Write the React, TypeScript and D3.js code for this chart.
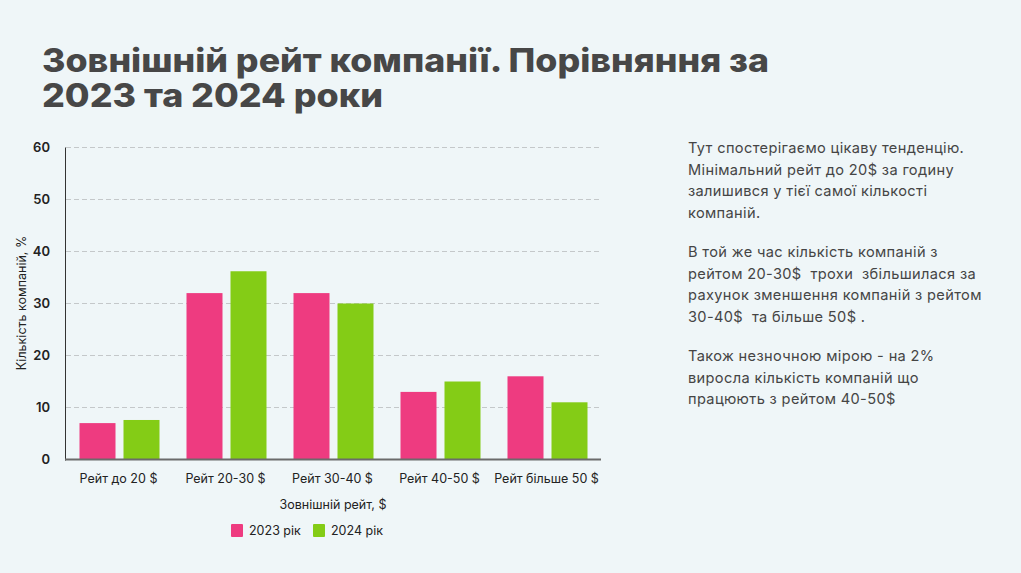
import React from "react";
import * as d3 from "d3";

const categories = ["Рейт до 20 $", "Рейт 20-30 $", "Рейт 30-40 $", "Рейт 40-50 $", "Рейт більше 50 $"];
const series2023 = [7, 32, 32, 13, 16];
const series2024 = [7.6, 36.2, 30, 15, 11];
const seriesNames = ["2023 рік", "2024 рік"];
const seriesColors = ["#EE3B80", "#84CC16"];
const yTicks = [0, 10, 20, 30, 40, 50, 60];

const titleLines = ["Зовнішній рейт компанії. Порівняння за", "2023 та 2024 роки"];
const titleWidths = [727, 341];
const paragraphs = [
  ["Тут спостерігаємо цікаву тенденцію.", "Мінімальний рейт до 20$ за годину", "залишився у тієї самої кількості", "компаній."],
  ["В той же час кількість компаній з", "рейтом 20-30$  трохи  збільшилася за", "рахунок зменшення компаній з рейтом", "30-40$  та більше 50$ ."],
  ["Також незночною мірою - на 2%", "виросла кількість компаній що", "працюють з рейтом 40-50$"],
];

const W = 1021;
const H = 573;
const plot = { left: 66, right: 601, top: 147.5, bottom: 459.5 };
const FONT = "Inter, 'Noto Sans', sans-serif";
const TEXT = "#222";

export default function App() {
  const x0 = d3.scaleBand<string>().domain(categories).range([plot.left, plot.right]).paddingInner(0).paddingOuter(0);
  const y = d3.scaleLinear().domain([0, 60]).range([plot.bottom, plot.top]);
  const barW = 36;
  const gap = 8;
  const data = [series2023, series2024];

  return (
    <svg width={W} height={H} style={{ position: "absolute", left: 0, top: 0, display: "block" }} fontFamily={FONT}>
      <rect x={0} y={0} width={W} height={H} fill="#EFF6F8" />
      {titleLines.map((t, i) => (
        <text key={i} x={42} y={71.5 + i * 35.6} fontSize={32.5} fontWeight={800} fill="#474747" textLength={titleWidths[i]} lengthAdjust="spacingAndGlyphs">
          {t}
        </text>
      ))}

      {/* grid */}
      {yTicks.filter((t) => t > 0).map((t) => (
        <line key={t} x1={plot.left} x2={plot.right} y1={y(t)} y2={y(t)} stroke="#C4C8CA" strokeWidth={1} strokeDasharray="5,3" />
      ))}
      {yTicks.map((t) => (
        <text key={t} x={50} y={y(t)} dy="0.35em" textAnchor="end" fontSize={13} fontWeight={600} fill={TEXT}>
          {t}
        </text>
      ))}

      {/* bars */}
      {categories.map((c, ci) => {
        const bw = x0.bandwidth();
        const start = (x0(c) as number) + (bw - (barW * 2 + gap)) / 2;
        return data.map((s, si) => (
          <rect key={c + si} x={start + si * (barW + gap)} y={y(s[ci])} width={barW} height={y(0) - y(s[ci])} fill={seriesColors[si]} />
        ));
      })}

      {/* axes */}
      <line x1={plot.left - 0.5} x2={plot.left - 0.5} y1={plot.top} y2={plot.bottom + 1} stroke="#333" strokeWidth={1} />
      <line x1={plot.left - 1} x2={plot.right} y1={plot.bottom} y2={plot.bottom} stroke="#6b6b6b" strokeWidth={2} />

      {categories.map((c) => (
        <text key={c} x={(x0(c) as number) + x0.bandwidth() / 2 - 1} y={478.5} dy="0.35em" textAnchor="middle" fontSize={12.5} fill={TEXT}>
          {c}
        </text>
      ))}
      <text x={333} y={505} dy="0.35em" textAnchor="middle" fontSize={12.5} fill={TEXT}>
        Зовнішній рейт, $
      </text>
      <text transform={`translate(22,303) rotate(-90)`} textAnchor="middle" dy="0.35em" fontSize={12.5} fill={TEXT}>
        Кількість компаній, %
      </text>

      {/* legend */}
      {seriesNames.map((n, i) => (
        <g key={n} transform={`translate(${231 + i * 82},0)`}>
          <rect x={0} y={524} width={12} height={13} rx={1} fill={seriesColors[i]} />
          <text x={18} y={531} dy="0.35em" fontSize={12.5} fill={TEXT}>
            {n}
          </text>
        </g>
      ))}

      {/* commentary */}
      {paragraphs.map((p, pi) =>
        p.map((line, li) => (
          <text key={pi + "-" + li} x={688} y={153 + pi * 104 + li * 21.5} fontSize={14.6} letterSpacing={0.35} fill="#454545" style={{ whiteSpace: "pre" }}>
            {line}
          </text>
        ))
      )}
    </svg>
  );
}
